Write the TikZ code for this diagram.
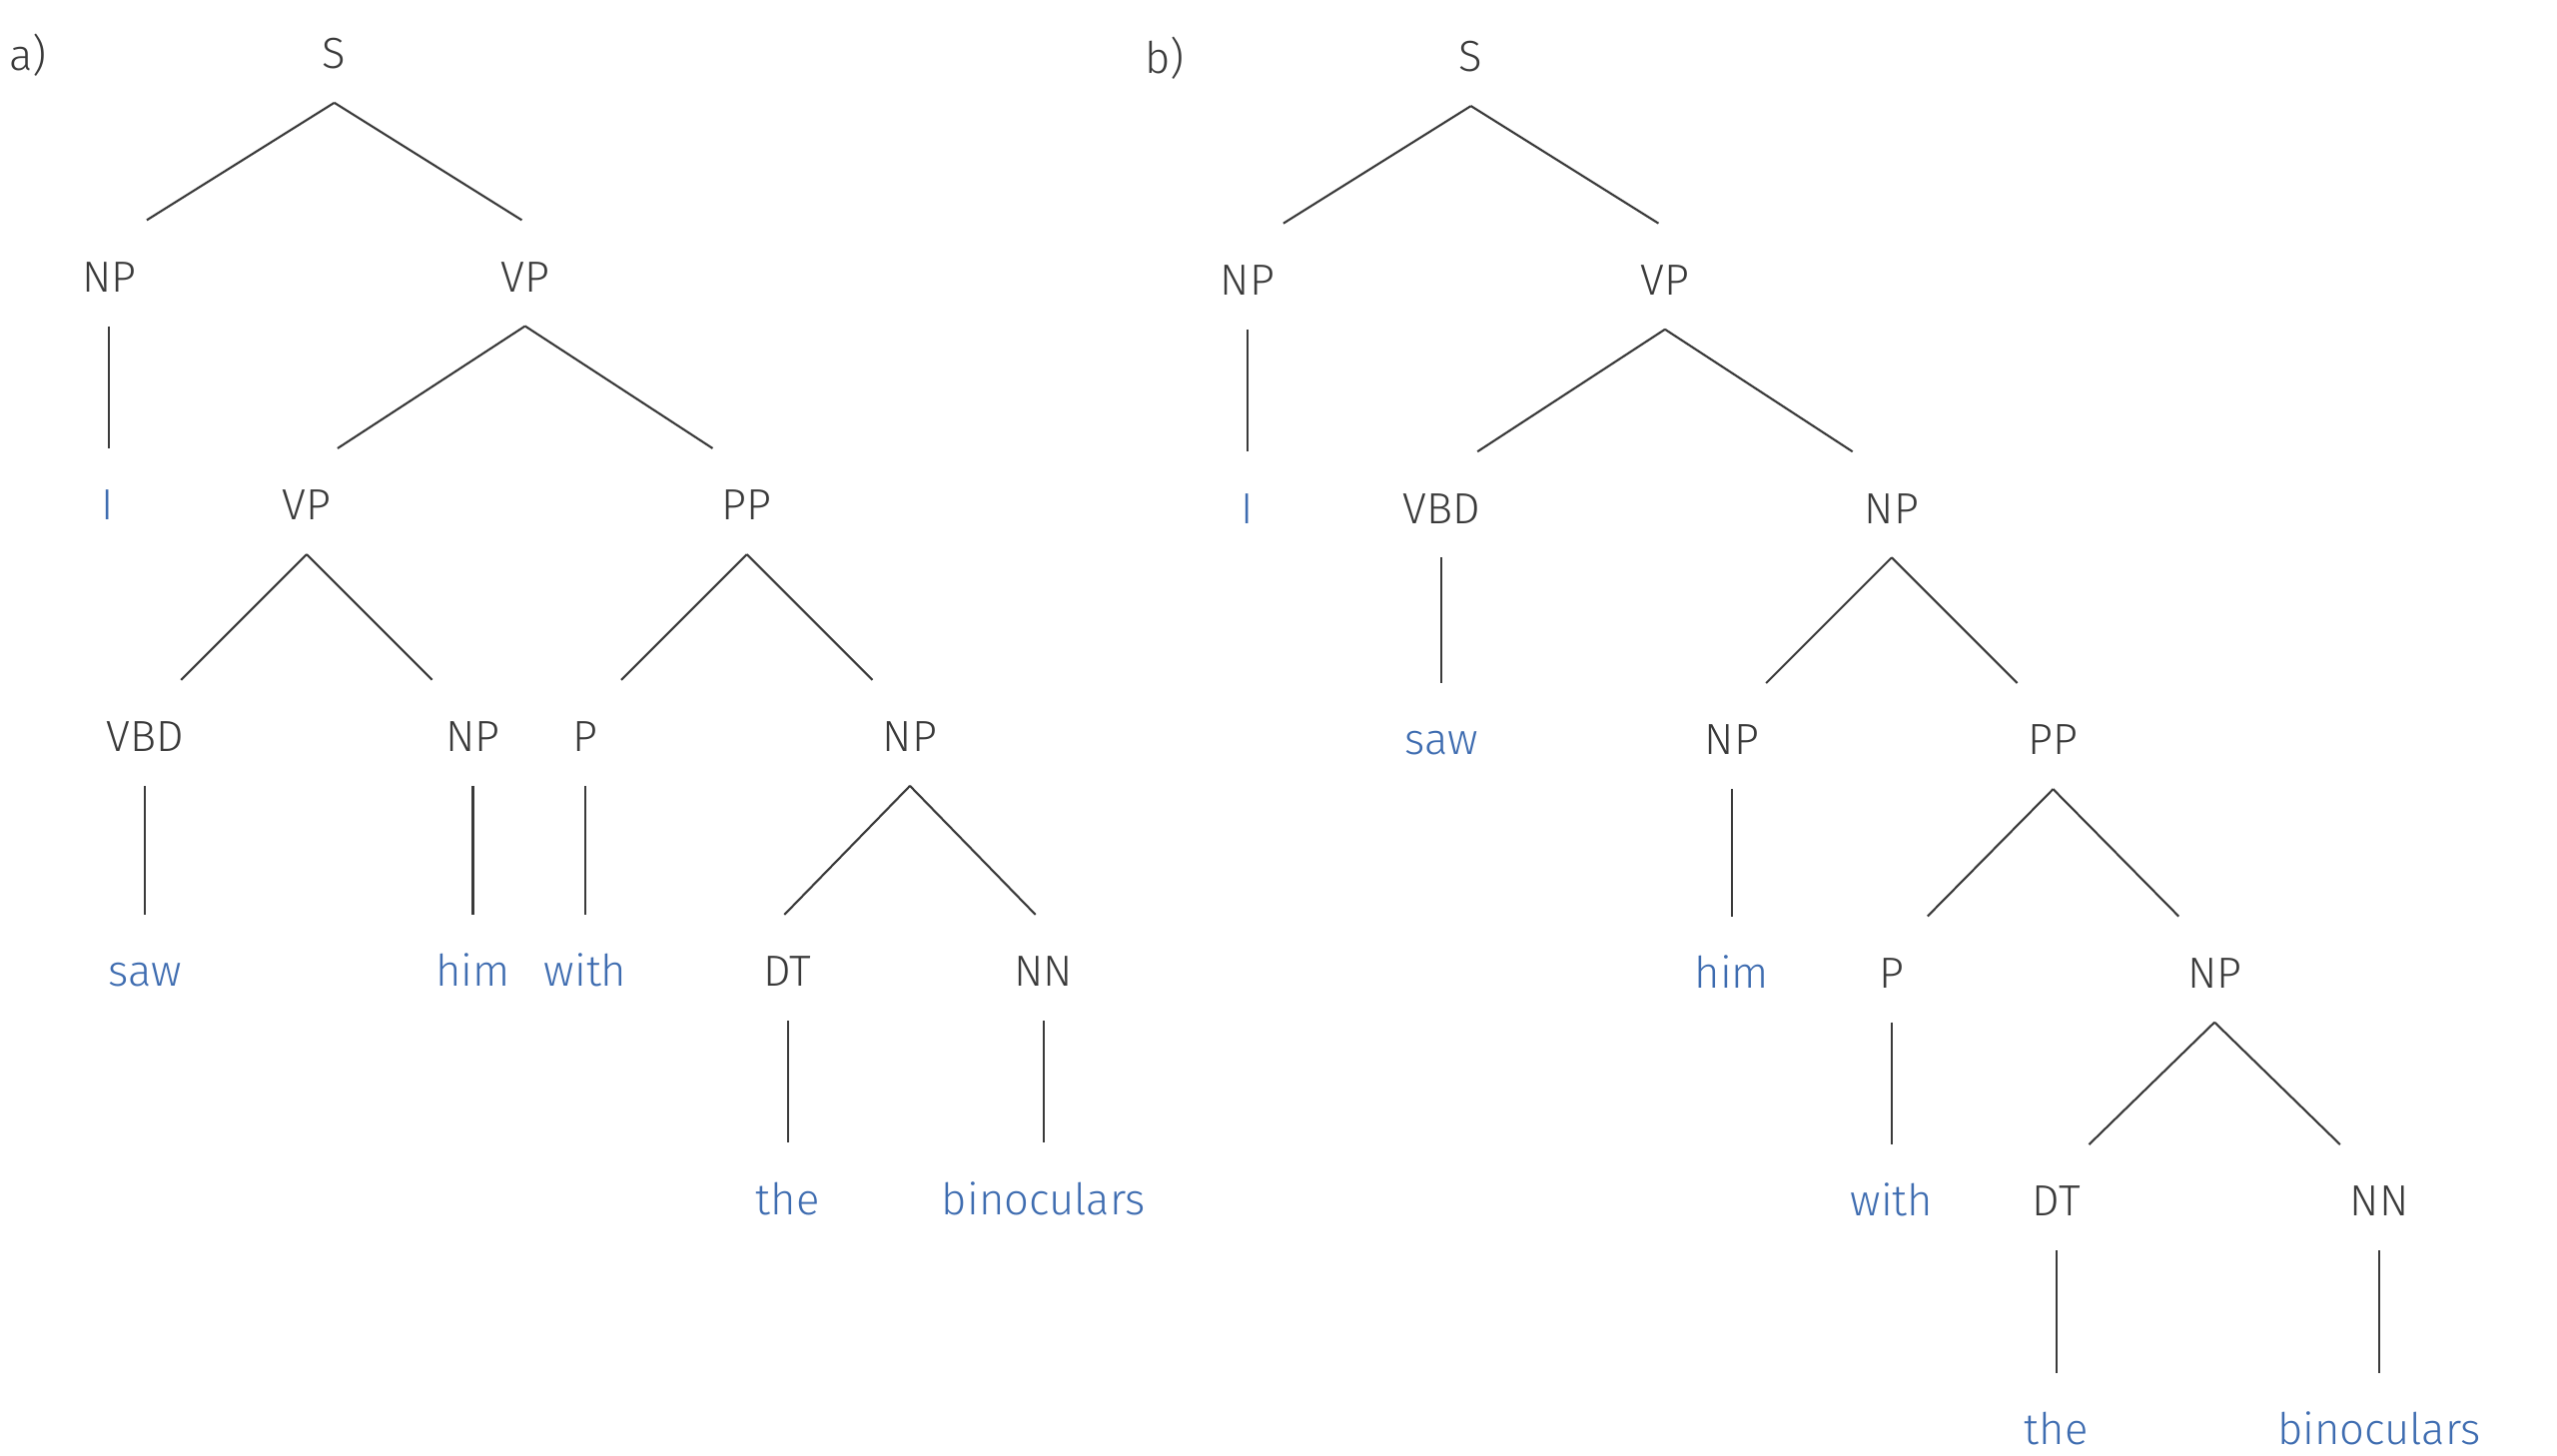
\documentclass[tikz,border=0pt]{standalone}
\usepackage{fontspec}
\IfFontExistsTF{Fira Sans Light}{\setmainfont{Fira Sans Light}}{\setmainfont{Fira Sans}}

\definecolor{catgray}{RGB}{58,58,58}
\definecolor{wordblue}{RGB}{62,108,176}

\tikzset{
	cat/.style={anchor=base, inner sep=0pt, text=catgray, font=\fontsize{12.4}{14}\selectfont},
	word/.style={cat, text=wordblue},
	branch/.style={draw=catgray, line width=0.6pt}
}

\begin{document}
\begin{tikzpicture}[x=0.16327mm, y=-0.16327mm]
		\useasboundingbox (0, 0) rectangle (1568, 893);

		% a) PP attached to the VP
		\node[cat] (alabel) at (17, 43) {a)};
		\node[cat] (aS) at (205, 42) {S};
		\node[cat] (aNP) at (67, 179) {NP};
		\node[cat] (aVP) at (322, 179) {VP};
		\node[word] (aI) at (66, 319) {I};
		\node[cat] (aVPin) at (188, 319) {VP};
		\node[cat] (aPP) at (458, 319) {PP};
		\node[cat] (aVBD) at (89, 461) {VBD};
		\node[cat] (aNPhim) at (290, 461) {NP};
		\node[cat] (aP) at (359, 461) {P};
		\node[cat] (aNPbin) at (558, 461) {NP};
		\node[word] (asaw) at (89, 605) {saw};
		\node[word] (ahim) at (290, 605) {him};
		\node[word] (awith) at (359, 605) {with};
		\node[cat] (aDT) at (483, 605) {DT};
		\node[cat] (aNN) at (640, 605) {NN};
		\node[word] (athe) at (483, 745) {the};
		\node[word] (abin) at (640, 745) {binoculars};

		% b) PP attached to the object NP
		\node[cat] (blabel) at (714, 45) {b)};
		\node[cat] (bS) at (902, 44) {S};
		\node[cat] (bNP) at (765, 181) {NP};
		\node[cat] (bVP) at (1021, 181) {VP};
		\node[word] (bI) at (765, 321) {I};
		\node[cat] (bVBD) at (884, 321) {VBD};
		\node[cat] (bNPobj) at (1160, 321) {NP};
		\node[word] (bsaw) at (884, 463) {saw};
		\node[cat] (bNPhim) at (1062, 463) {NP};
		\node[cat] (bPP) at (1259, 463) {PP};
		\node[word] (bhim) at (1062, 606) {him};
		\node[cat] (bP) at (1160, 606) {P};
		\node[cat] (bNPbin) at (1358, 606) {NP};
		\node[word] (bwith) at (1160, 746) {with};
		\node[cat] (bDT) at (1261, 746) {DT};
		\node[cat] (bNN) at (1459, 746) {NN};
		\node[word] (bthe) at (1261, 886) {the};
		\node[word] (bbin) at (1459, 886) {binoculars};

		% branching nodes
		\foreach \p/\l/\r/\w in {aS/aNP/aVP/115, aVP/aVPin/aPP/115, aVPin/aVBD/aNPhim/77,
				aPP/aP/aNPbin/77, aNPbin/aDT/aNN/77,
				bS/bNP/bVP/115, bVP/bVBD/bNPobj/115, bNPobj/bNPhim/bPP/77,
				bPP/bP/bNPbin/77, bNPbin/bDT/bNN/77}{
				\path (\p.base) ++(-\w, 21) coordinate (lx) ++(2*\w, 0) coordinate (rx);
				\path (\l.base) ++(0, -44) coordinate (ly);
				\path (\r.base) ++(0, -44) coordinate (ry);
				\draw[branch] (\p.base) ++(0, 21) -- (lx |- ly);
				\draw[branch] (\p.base) ++(0, 21) -- (rx |- ry);
			}

		% unary nodes
		\foreach \p/\c in {aNP/aI, aVBD/asaw, aNPhim/ahim, aP/awith, aDT/athe, aNN/abin,
				bNP/bI, bVBD/bsaw, bNPhim/bhim, bP/bwith, bDT/bthe, bNN/bbin}{
				\path (\c.base) ++(0, -44) coordinate (cy);
				\draw[branch] (\p.base) ++(0, 21) -- (\p.base |- cy);
			}
	\end{tikzpicture}
\end{document}
